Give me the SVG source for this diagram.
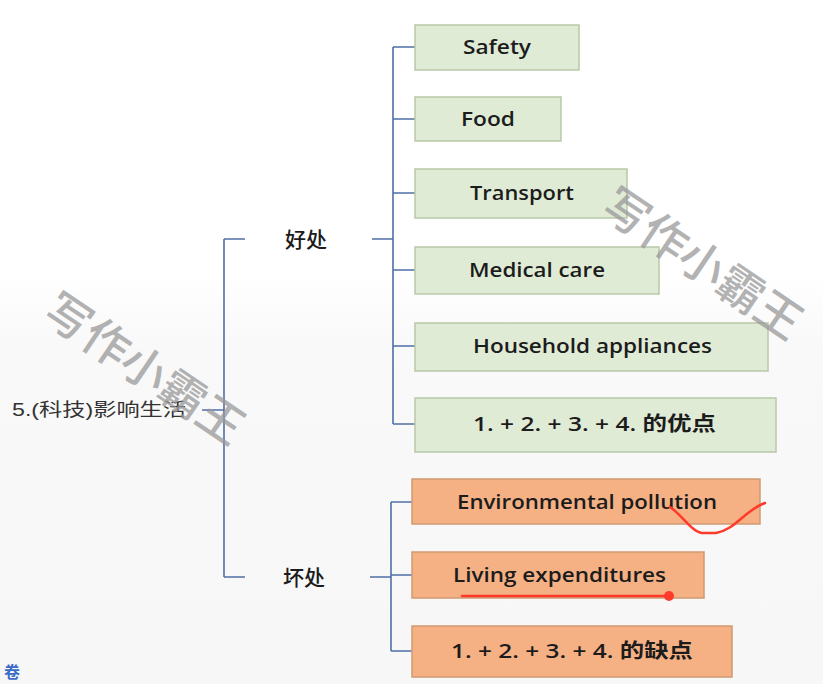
<svg xmlns="http://www.w3.org/2000/svg" width="823" height="684" viewBox="0 0 823 684">
<style>
.g{fill:#e0ebd6;stroke:#b8c8a8;stroke-width:1.5}
.o{fill:#f5b184;stroke:#cf9a72;stroke-width:1.5}
.t{font-family:"Open Sans","Liberation Sans","Noto Sans CJK SC",sans-serif;font-weight:600;font-size:20px;fill:#1c1c1c}
.c{font-family:"Noto Sans CJK SC",sans-serif;font-weight:500;font-size:21px;fill:#1c1c1c}
.ln{stroke:#4f6fa6;stroke-width:1.6;fill:none}
.wm{font-family:"Noto Sans CJK SC",sans-serif;font-weight:500;font-size:46px;fill:#999999;opacity:0.75}
.red{stroke:#ff3a2a;stroke-width:2.5;fill:none;stroke-linecap:round}
</style>
<defs>
<linearGradient id="bg" x1="0" y1="0" x2="0" y2="1">
<stop offset="0" stop-color="#ffffff"/>
<stop offset="0.4" stop-color="#ffffff"/>
<stop offset="0.5" stop-color="#f9f9f9"/>
<stop offset="1" stop-color="#f7f7f7"/>
</linearGradient>
</defs>
<rect width="823" height="684" fill="url(#bg)"/>
<g id="connectors">
<path class="ln" d="M202 410H224M224 239V577M224 239H245M224 577H245"/>
<path class="ln" d="M372 239H393M393 47V424M393 47H415M393 119H415M393 193H415M393 270H415M393 346H415M393 424H415"/>
<path class="ln" d="M370 577H391M391 502V651M391 502H412M391 575H412M391 651H412"/>
</g>
<g id="root"><text x="12" y="416" font-family="'Liberation Sans','Noto Sans CJK SC',sans-serif" font-size="18" fill="#333" textLength="174" lengthAdjust="spacingAndGlyphs">5.(科技)影响生活</text></g>
<g id="good"><text class="c" x="285" y="247">好处</text></g>
<g id="bad"><text class="c" x="283" y="585">坏处</text></g>
<g id="safety"><rect class="g" x="415" y="25" width="164" height="45"/><text class="t" x="463" y="54" textLength="68" lengthAdjust="spacingAndGlyphs">Safety</text></g>
<g id="food"><rect class="g" x="415" y="97" width="146" height="44"/><text class="t" x="461" y="126" textLength="54" lengthAdjust="spacingAndGlyphs">Food</text></g>
<g id="transport"><rect class="g" x="415" y="169" width="212" height="49"/><text class="t" x="470" y="200" textLength="104" lengthAdjust="spacingAndGlyphs">Transport</text></g>
<g id="medical"><rect class="g" x="415" y="247" width="244" height="47"/><text class="t" x="469" y="277" textLength="136" lengthAdjust="spacingAndGlyphs">Medical care</text></g>
<g id="household"><rect class="g" x="415" y="323" width="353" height="48"/><text class="t" x="473" y="353" textLength="239" lengthAdjust="spacingAndGlyphs">Household appliances</text></g>
<g id="pros"><rect class="g" x="415" y="398" width="361" height="54"/><text class="t" x="473" y="431" textLength="243" lengthAdjust="spacingAndGlyphs">1. + 2. + 3. + 4. 的优点</text></g>
<g id="pollution"><rect class="o" x="412" y="479" width="348" height="45"/><text class="t" x="457" y="509" textLength="260" lengthAdjust="spacingAndGlyphs">Environmental pollution</text></g>
<g id="living"><rect class="o" x="412" y="552" width="292" height="46"/><text class="t" x="453" y="582" textLength="213" lengthAdjust="spacingAndGlyphs">Living expenditures</text></g>
<g id="cons"><rect class="o" x="412" y="626" width="320" height="51"/><text class="t" x="451" y="658" textLength="242" lengthAdjust="spacingAndGlyphs">1. + 2. + 3. + 4. 的缺点</text></g>
<g id="watermarks">
<text class="wm" transform="translate(40,318) rotate(34)">写作小霸王</text>
<text class="wm" transform="translate(598,213) rotate(34)">写作小霸王</text>
</g>
<g id="pen">
<path class="red" d="M670 507C682 515 692 532 702 533H716C735 530 745 510 765 503"/>
<path class="red" d="M462 596L670 596"/>
<circle cx="669" cy="596" r="5" fill="#ff3a2a"/>
</g>
<text x="4" y="678" font-family="'Noto Sans CJK SC',sans-serif" font-weight="700" font-size="16" fill="#3a6cc8">卷</text>
</svg>
